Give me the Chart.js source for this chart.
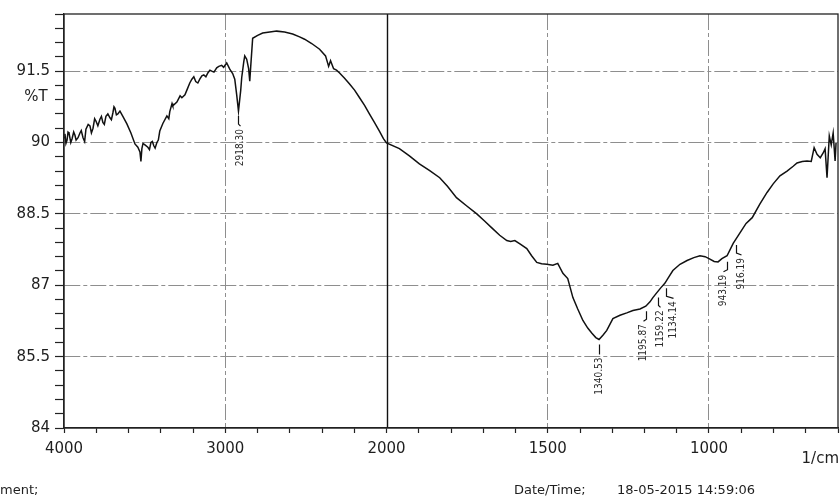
<!DOCTYPE html>
<html>
<head>
<meta charset="utf-8">
<script src="https://cdn.jsdelivr.net/npm/chart.js@4.4.1/dist/chart.umd.min.js"></script>
<style>
  html, body { margin: 0; padding: 0; background: #fff; }
  #wrap { position: relative; width: 840px; height: 501px; }
</style>
</head>
<body>
<div id="wrap"><canvas id="ftir" width="840" height="501"></canvas></div>
<script>
// Spectrum (1/cm , %T)
const wavenumbers = [
  4000, 3994, 3988, 3981, 3975, 3969, 3958, 3950, 3940, 3932,
  3925, 3913, 3901, 3893, 3882, 3872, 3864, 3850, 3839, 3830,
  3820, 3810, 3802, 3790, 3777, 3768, 3759, 3750, 3740, 3728,
  3715, 3706, 3697, 3690, 3684, 3675, 3666, 3653, 3635, 3610,
  3585, 3560, 3542, 3529, 3523, 3517, 3510, 3498, 3480, 3470,
  3461, 3452, 3443, 3435, 3424, 3415, 3406, 3387, 3362, 3350,
  3344, 3330, 3325, 3300, 3280, 3269, 3250, 3238, 3220, 3207,
  3195, 3183, 3170, 3158, 3145, 3133, 3120, 3108, 3095, 3084,
  3070, 3053, 3040, 3022, 3010, 2991,
  2972, 2954, 2941, 2929, 2918, 2904, 2898, 2885, 2879,
  2867, 2855, 2848, 2842, 2830, 2799, 2768, 2724, 2681, 2632,
  2582, 2539, 2508, 2464, 2415, 2378, 2359, 2347, 2328, 2310,
  2291, 2260, 2229, 2198, 2167, 2136, 2106, 2075, 2044, 2019,
  2000, 1960, 1929, 1898, 1866, 1835, 1811, 1783, 1752, 1720,
  1696, 1671, 1649, 1627, 1615, 1602, 1584, 1565, 1550, 1534,
  1519, 1503, 1484, 1469, 1453, 1438, 1422, 1407, 1391, 1376,
  1363, 1351, 1341, 1329, 1317, 1298, 1276, 1255, 1236, 1214,
  1196, 1183, 1174, 1161, 1149, 1137, 1124, 1112, 1090, 1068,
  1047, 1028, 1012, 1000, 984, 972, 960, 944, 925, 904,
  885, 866, 842, 820, 801, 780, 758, 739, 727, 711,
  696, 683, 674, 665, 655, 646, 640, 634, 627, 621,
  615, 609, 606
];
const transmittance = [
  90.1, 90.18, 89.98, 90.05, 90.22, 90.2, 90.0, 90.08, 90.22, 90.15,
  90.05, 90.1, 90.2, 90.25, 90.1, 90.02, 90.28, 90.38, 90.35, 90.2,
  90.3, 90.5, 90.45, 90.35, 90.49, 90.55, 90.42, 90.38, 90.55, 90.6,
  90.52, 90.48, 90.62, 90.75, 90.72, 90.58, 90.6, 90.66, 90.55, 90.39,
  90.2, 89.97, 89.9, 89.8, 89.6, 89.87, 89.98, 89.95, 89.9, 89.85,
  90.0, 90.02, 89.93, 89.88, 90.0, 90.05, 90.24, 90.4, 90.56, 90.5,
  90.65, 90.82, 90.77, 90.85, 90.98, 90.94, 91.0, 91.1, 91.25, 91.33,
  91.38, 91.28, 91.25, 91.33, 91.4, 91.42, 91.38, 91.46, 91.52, 91.5,
  91.48, 91.57, 91.6, 91.62, 91.58, 91.67,
  91.54, 91.45, 91.33, 91.0, 90.66, 91.1, 91.36, 91.7, 91.82,
  91.75, 91.55, 91.29, 91.6, 92.19, 92.25, 92.3, 92.32, 92.34, 92.32,
  92.28, 92.22, 92.17, 92.08, 91.96, 91.82, 91.6, 91.72, 91.55, 91.52,
  91.46, 91.35, 91.23, 91.1, 90.94, 90.78, 90.6, 90.42, 90.24, 90.08,
  89.99, 89.87, 89.72, 89.55, 89.41, 89.26, 89.08, 88.84, 88.67, 88.5,
  88.35, 88.19, 88.05, 87.94, 87.92, 87.94, 87.86, 87.77, 87.62, 87.48,
  87.45, 87.44, 87.42, 87.46, 87.25, 87.14, 86.74, 86.5, 86.26, 86.1,
  85.99, 85.9, 85.86, 85.95, 86.05, 86.3, 86.37, 86.42, 86.47, 86.5,
  86.56, 86.65, 86.74, 86.85, 86.95, 87.04, 87.18, 87.31, 87.44, 87.52,
  87.58, 87.62, 87.6, 87.56, 87.5, 87.49, 87.56, 87.62, 87.88, 88.1,
  88.3, 88.42, 88.71, 88.95, 89.13, 89.3, 89.4, 89.5, 89.57, 89.6,
  89.61, 89.6, 89.89, 89.75, 89.68, 89.78, 89.87, 89.26, 90.14, 89.95,
  90.2, 89.61, 90.0
];

// Peak picks
const peakWavenumbers = [2918.30, 1340.53, 1195.87, 1159.22, 1134.14, 943.19, 916.19];
const peakTransmittance = [90.66, 85.86, 86.56, 86.85, 87.04, 87.6, 87.95];
const peakLabels = ['2918.30', '1340.53', '1195.87', '1159.22', '1134.14', '943.19', '916.19'];

// Axes
const xMin = 600, xMax = 4000, xBreak = 2000;
const xTickLabels = [4000, 3000, 2000, 1500, 1000];
const yMin = 84, yMax = 92.7, yMinorStep = 0.3;
const yTickLabels = [84, 85.5, 87, 88.5, 90, 91.5];

// styles for the peak annotation text (offset of text from the tick, px)
const peakTextDx = [2, 0, -3, 2, 7, -4, 5];

const GRID = '#8e8e8e';
const INK = '#1e1e1e';

// Two-scale x axis: 4000-2000 at one density, 2000-600 at double density
const leftFrac = (xMax - xBreak) / ((xMax - xBreak) + 2 * (xBreak - xMin));
class FtirScale extends Chart.LinearScale {
  getPixelForValue(value) {
    let dec;
    if (value >= xBreak) dec = (xMax - value) / (xMax - xBreak) * leftFrac;
    else dec = leftFrac + (xBreak - value) / (xBreak - xMin) * (1 - leftFrac);
    return this.getPixelForDecimal(dec);
  }
  getValueForPixel(pixel) {
    const dec = this.getDecimalForPixel(pixel);
    if (dec <= leftFrac) return xMax - dec / leftFrac * (xMax - xBreak);
    return xBreak - (dec - leftFrac) / (1 - leftFrac) * (xBreak - xMin);
  }
}
FtirScale.id = 'ftir';
FtirScale.defaults = Chart.LinearScale.defaults;
Chart.register(FtirScale);

const isOn = (v, list) => list.some(t => Math.abs(t - v) < 1e-6);

const decor = {
  id: 'decor',
  beforeDatasetsDraw(chart) {
    const { ctx, chartArea: a } = chart;
    const xs = chart.scales.x;
    const px = Math.round(xs.getPixelForValue(xBreak)) + 0.5;
    ctx.save();
    ctx.strokeStyle = '#111';
    ctx.lineWidth = 1.4;
    ctx.beginPath();
    ctx.moveTo(px, a.top);
    ctx.lineTo(px, a.bottom);
    ctx.stroke();
    ctx.restore();
  },
  afterDraw(chart) {
    const { ctx, chartArea: a } = chart;
    const xs = chart.scales.x, ys = chart.scales.y;
    ctx.save();
    // frame
    ctx.strokeStyle = '#222';
    ctx.lineWidth = 1.3;
    ctx.strokeRect(a.left, a.top, a.right - a.left, a.bottom - a.top);

    // peak picks
    ctx.strokeStyle = '#111';
    ctx.lineWidth = 1.2;
    ctx.fillStyle = '#2a2a2a';
    ctx.font = '10px "Liberation Sans Narrow", "DejaVu Sans Condensed", sans-serif';
    peakWavenumbers.forEach((wn, i) => {
      const x = Math.round(xs.getPixelForValue(wn)) + 0.5;
      const y = ys.getPixelForValue(peakTransmittance[i]);
      const tx = x + peakTextDx[i];
      ctx.beginPath();
      ctx.moveTo(x, y + 5);
      ctx.lineTo(x, y + 13);
      ctx.lineTo(tx, y + 15);
      ctx.stroke();
      ctx.save();
      ctx.translate(tx, y + 18);
      ctx.rotate(-Math.PI / 2);
      ctx.textAlign = 'right';
      ctx.textBaseline = 'middle';
      ctx.fillText(peakLabels[i], 0, 0);
      ctx.restore();
    });

    // axis names and footer
    ctx.fillStyle = INK;
    ctx.font = '15px "DejaVu Sans", sans-serif';
    ctx.textAlign = 'center';
    ctx.textBaseline = 'middle';
    ctx.fillText('%T', 36, ys.getPixelForValue(90.95));
    ctx.textAlign = 'right';
    ctx.fillText('1/cm', 839, 459);
    ctx.font = '13px "DejaVu Sans", sans-serif';
    ctx.textAlign = 'left';
    ctx.fillText('ment;', 0, 491);
    ctx.fillText('Date/Time;', 514, 491);
    ctx.fillText('18-05-2015 14:59:06', 617, 491);
    ctx.restore();
  }
};

new Chart(document.getElementById('ftir'), {
  type: 'line',
  data: {
    datasets: [{
      label: '%T',
      data: wavenumbers.map((w, i) => ({ x: w, y: transmittance[i] })),
      borderColor: '#111',
      borderWidth: 1.5,
      pointRadius: 0,
      tension: 0,
      fill: false
    }]
  },
  options: {
    responsive: false,
    animation: false,
    layout: { padding: { left: 0, right: 2, top: 13, bottom: 0 } },
    plugins: { legend: { display: false }, tooltip: { enabled: false } },
    scales: {
      x: {
        type: 'ftir',
        min: xMin,
        max: xMax,
        afterBuildTicks(axis) {
          const t = [];
          for (let v = xMax; v >= xBreak; v -= 200) t.push({ value: v });
          for (let v = xBreak - 100; v >= xMin; v -= 100) t.push({ value: v });
          axis.ticks = t;
        },
        afterFit(axis) {
          axis.height = 73;
          axis.paddingLeft = 0;
          axis.paddingRight = 0;
        },
        grid: {
          color: c => (c.tick && isOn(c.tick.value, [3000, 1500, 1000])) ? GRID : 'rgba(0,0,0,0)',
          lineWidth: 1,
          tickColor: '#222',
          tickLength: 5,
          tickWidth: 1.2
        },
        border: { color: '#222', width: 1.3, dash: [16, 3, 4, 3] },
        ticks: {
          autoSkip: false,
          maxRotation: 0,
          padding: 7,
          color: INK,
          font: { family: '"DejaVu Sans", sans-serif', size: 15 },
          callback: v => isOn(v, xTickLabels) ? String(v) : ''
        }
      },
      y: {
        type: 'linear',
        min: yMin,
        max: yMax,
        afterBuildTicks(axis) {
          const t = [];
          for (let k = 0; yMin + k * yMinorStep <= yMax + 1e-6; k++) {
            t.push({ value: Math.round((yMin + k * yMinorStep) * 10) / 10 });
          }
          axis.ticks = t;
        },
        afterFit(axis) { axis.width = 64; },
        grid: {
          color: c => (c.tick && isOn(c.tick.value, yTickLabels) && c.tick.value !== yMin) ? GRID : 'rgba(0,0,0,0)',
          lineWidth: 1,
          tickColor: '#222',
          tickLength: 9,
          tickWidth: 1.2
        },
        border: { color: '#222', width: 1.3, dash: [16, 3, 4, 3] },
        ticks: {
          autoSkip: false,
          padding: 5,
          color: INK,
          font: { family: '"DejaVu Sans", sans-serif', size: 15 },
          callback: v => isOn(v, yTickLabels) ? String(v) : ''
        }
      }
    }
  },
  plugins: [decor]
});
</script>
</body>
</html>
